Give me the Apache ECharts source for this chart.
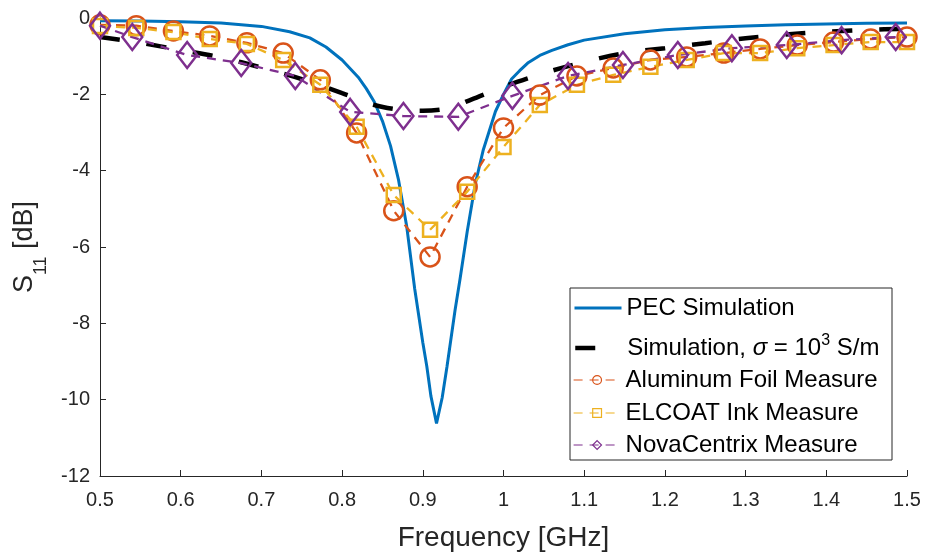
<!DOCTYPE html>
<html><head><meta charset="utf-8">
<script src="https://cdn.jsdelivr.net/npm/echarts@6/dist/echarts.min.js"></script>
<style>html,body{margin:0;padding:0;background:#fff}#c{width:928px;height:554px}</style>
</head><body><div id="c"></div>
<script>
// ---- tick labels ----
const xTickLabels = ['0.5','0.6','0.7','0.8','0.9','1','1.1','1.2','1.3','1.4','1.5'];
const yTickLabels = ['-12','-10','-8','-6','-4','-2','0'];

// ---- series names ----
const seriesNames = ['PEC Simulation','Simulation, sigma','Aluminum Foil Measure','ELCOAT Ink Measure','NovaCentrix Measure'];

// ---- PEC simulation ----
const pecFreq = [0.50,0.55,0.60,0.65,0.70,0.735,0.76,0.78,0.80,0.82,0.83,0.84,0.85,0.86,0.87,0.88,0.89,0.90,0.905,0.91,0.917,0.924,0.93,0.94,0.946,0.955,0.965,0.975,0.99,1.00,1.01,1.02,1.03,1.045,1.06,1.08,1.10,1.15,1.20,1.25,1.30,1.35,1.40,1.45,1.50];
const pecS11  = [-0.07,-0.08,-0.10,-0.13,-0.22,-0.36,-0.52,-0.76,-1.10,-1.55,-1.85,-2.20,-2.70,-3.35,-4.25,-5.45,-7.10,-8.50,-9.13,-9.90,-10.62,-9.95,-9.13,-7.65,-6.86,-5.60,-4.35,-3.45,-2.45,-2.00,-1.60,-1.38,-1.18,-0.98,-0.85,-0.70,-0.58,-0.41,-0.31,-0.25,-0.21,-0.18,-0.16,-0.14,-0.13];

// ---- Simulation sigma = 1e3 S/m ----
const simFreq = [0.50,0.55,0.60,0.65,0.70,0.75,0.80,0.84,0.87,0.90,0.93,0.96,1.00,1.03,1.06,1.10,1.15,1.20,1.25,1.30,1.35,1.40,1.45,1.50];
const simS11  = [-0.50,-0.65,-0.84,-1.03,-1.30,-1.60,-1.97,-2.28,-2.40,-2.43,-2.37,-2.14,-1.80,-1.58,-1.38,-1.15,-0.92,-0.79,-0.66,-0.53,-0.43,-0.36,-0.31,-0.28];

// ---- measurements (aluminum & ELCOAT share frequencies) ----
const measFreq = [0.500,0.545,0.591,0.636,0.682,0.727,0.773,0.818,0.864,0.909,0.955,1.000,1.045,1.091,1.136,1.182,1.227,1.273,1.318,1.364,1.409,1.455,1.500];
const aluS11   = [-0.18,-0.20,-0.34,-0.47,-0.65,-0.92,-1.62,-3.01,-5.05,-6.26,-4.42,-2.88,-2.02,-1.52,-1.31,-1.10,-1.02,-0.92,-0.81,-0.71,-0.63,-0.55,-0.50];
const elcS11   = [-0.21,-0.26,-0.37,-0.55,-0.68,-1.10,-1.75,-2.85,-4.64,-5.55,-4.55,-3.38,-2.28,-1.75,-1.49,-1.28,-1.10,-0.92,-0.92,-0.79,-0.71,-0.63,-0.63];
const novaFreq = [0.500,0.540,0.608,0.675,0.742,0.810,0.876,0.944,1.011,1.080,1.148,1.216,1.283,1.351,1.419,1.486];
const novaS11  = [-0.20,-0.50,-0.97,-1.18,-1.52,-2.46,-2.57,-2.59,-2.04,-1.52,-1.23,-0.97,-0.79,-0.71,-0.58,-0.50];

const zip = (a, b) => a.map((v, i) => [v, b[i]]);
const FONT = '"Liberation Sans", Arial, Helvetica, sans-serif';
const AX = '#262626';
const C = {pec:'#0072BD', sim:'#000000', alu:'#D95319', elc:'#EDB120', nova:'#7E2F8E'};

const chart = echarts.init(document.getElementById('c'), null, {renderer:'canvas'});

function mkLegend(name, top, lineW, extra) {
  return Object.assign({
    data: [name], left: 573, top: top, orient: 'horizontal', padding: 0,
    itemWidth: 47, itemHeight: 11, itemGap: 0, selectedMode: false,
    lineStyle: {width: lineW},
    itemStyle: {borderWidth: 1.2},
    textStyle: {fontFamily: FONT, fontSize: 24, color: '#000', lineHeight: 28},
    z: 5
  }, extra || {});
}
const noSymbol = {color: 'rgba(0,0,0,0)', borderWidth: 0, opacity: 0};

const option = {
  animation: false,
  backgroundColor: '#fff',
  grid: {left: 100, right: 21, top: 18, bottom: 78, containLabel: false, outerBoundsMode: 'none'},
  xAxis: {
    type: 'value', min: 0.5, max: 1.5, interval: 0.1,
    name: 'Frequency [GHz]', nameLocation: 'middle', nameGap: 47,
    nameTextStyle: {fontFamily: FONT, fontSize: 28, color: AX, lineHeight: 30},
    axisLine: {show: true, onZero: false, lineStyle: {color: AX, width: 1}},
    axisTick: {show: true, inside: true, length: 6, lineStyle: {color: AX}},
    axisLabel: {fontFamily: FONT, fontSize: 20, color: AX, margin: 14,
      formatter: v => xTickLabels[Math.round((v - 0.5) * 10)]},
    splitLine: {show: false}
  },
  yAxis: {
    type: 'value', min: -12, max: 0, interval: 2,
    name: 'S{sub|11} [dB]', nameLocation: 'middle', nameGap: 50, nameRotate: 90,
    nameTextStyle: {fontFamily: FONT, fontSize: 27, color: AX, lineHeight: 50,
      rich: {sub: {fontFamily: FONT, fontSize: 18, color: AX, lineHeight: 12, verticalAlign: 'bottom'}}},
    axisLine: {show: true, onZero: false, lineStyle: {color: AX, width: 1}},
    axisTick: {show: true, inside: true, length: 6, lineStyle: {color: AX}},
    axisLabel: {fontFamily: FONT, fontSize: 20, color: AX, margin: 10,
      formatter: v => yTickLabels[Math.round((v + 12) / 2)]},
    splitLine: {show: false}
  },
  legend: [
    mkLegend(seriesNames[0], 294, 3, {itemStyle: noSymbol}),
    mkLegend(seriesNames[1], 333, 4.5, {
      itemStyle: noSymbol,
      formatter: () => 'Simulation, {sig|σ} = 10{sup|3} S/m',
      textStyle: {fontFamily: FONT, fontSize: 24, color: '#000', lineHeight: 30,
        rich: {
          sig: {fontFamily: FONT, fontSize: 24, fontStyle: 'italic', color: '#000', lineHeight: 30},
          sup: {fontFamily: FONT, fontSize: 16, color: '#000', lineHeight: 12, verticalAlign: 'top'}
        }}
    }),
    mkLegend(seriesNames[2], 366, 1.2),
    mkLegend(seriesNames[3], 399, 1.2),
    mkLegend(seriesNames[4], 431, 1.2)
  ],
  graphic: [{
    type: 'rect', z: 4,
    shape: {x: 570, y: 288, width: 322, height: 172},
    style: {fill: '#fff', stroke: AX, lineWidth: 1}
  }],
  series: [
    {name: seriesNames[0], type: 'line', data: zip(pecFreq, pecS11), symbol: 'none',
      lineStyle: {color: C.pec, width: 3}, itemStyle: {color: C.pec}, z: 2},
    {name: seriesNames[1], type: 'line', data: zip(simFreq, simS11), symbol: 'none', smooth: 0.3,
      lineStyle: {color: C.sim, width: 4.5, type: [20, 27]}, itemStyle: {color: C.sim}, z: 2},
    {name: seriesNames[2], type: 'line', data: zip(measFreq, aluS11), symbol: 'circle', symbolSize: 19,
      showAllSymbol: true,
      lineStyle: {color: C.alu, width: 2.3, type: [9, 7]},
      itemStyle: {color: 'rgba(255,255,255,0)', borderColor: C.alu, borderWidth: 2.5}, z: 2},
    {name: seriesNames[3], type: 'line', data: zip(measFreq, elcS11), symbol: 'rect', symbolSize: 14,
      showAllSymbol: true,
      lineStyle: {color: C.elc, width: 2.3, type: [9, 7]},
      itemStyle: {color: 'rgba(255,255,255,0)', borderColor: C.elc, borderWidth: 2.5}, z: 2},
    {name: seriesNames[4], type: 'line', data: zip(novaFreq, novaS11), symbol: 'diamond', symbolSize: [20, 26],
      showAllSymbol: true,
      lineStyle: {color: C.nova, width: 2.3, type: [9, 7]},
      itemStyle: {color: 'rgba(255,255,255,0)', borderColor: C.nova, borderWidth: 2.5}, z: 2}
  ]
};
chart.setOption(option);
</script>
</body></html>
